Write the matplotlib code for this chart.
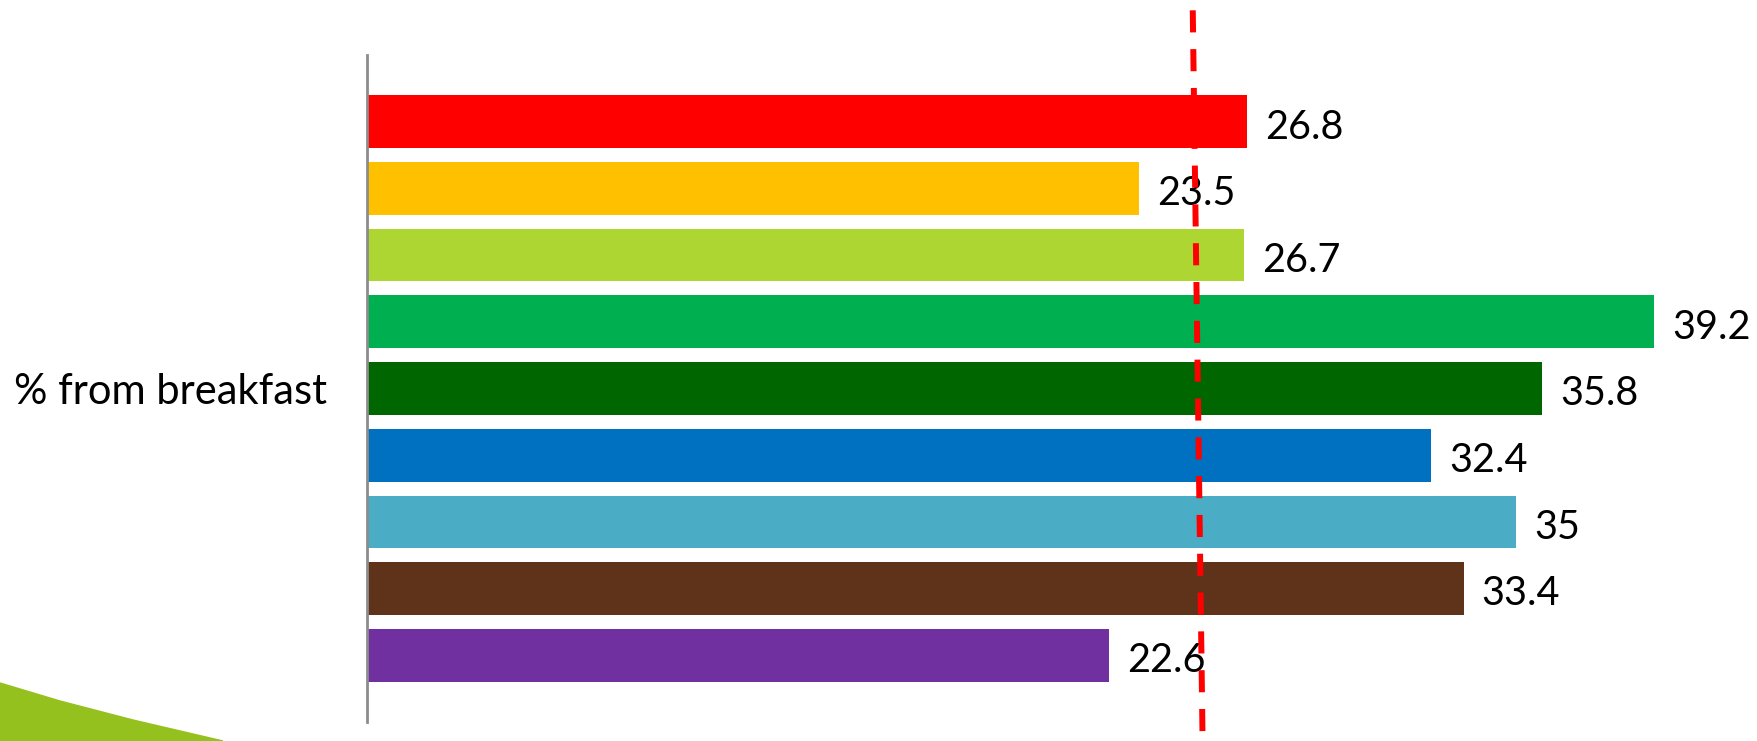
import matplotlib
matplotlib.use("Agg")
import matplotlib.pyplot as plt
from matplotlib.patches import Polygon
import numpy as np

category = "% from breakfast"
values = [26.8, 23.5, 26.7, 39.2, 35.8, 32.4, 35, 33.4, 22.6]
colors = ["#FF0000", "#FFC000", "#ADD633", "#00B050", "#006600",
          "#0070C0", "#4BACC6", "#5F3319", "#7030A0"]
ref_line = [25.15, 25.45]  # dashed reference, slightly slanted (top, bottom)

plt.rcParams['font.family'] = ['Lato', 'DejaVu Sans']

fig = plt.figure(figsize=(17.58, 7.41), dpi=100)
W, H = 1758, 741
ax = fig.add_axes([367 / W, 19 / H, 1379 / W, 667 / H])

pos = np.arange(len(values))
ax.barh(pos, values, height=0.79, color=colors)
ax.set_ylim(9, -1)
ax.set_xlim(0, 42)

for p, v in zip(pos, values):
    ax.text(v + 0.55, p + 0.08, f"{v:g}", va="center", ha="left", fontsize=28.5, color="black")

# axis styling
for s in ["top", "right", "bottom"]:
    ax.spines[s].set_visible(False)
ax.spines["left"].set_color("#8C8C8C")
ax.spines["left"].set_linewidth(2)
ax.set_xticks([])
ax.set_yticks([])

fig.text(14 / W, (H - 392) / H, category, ha="left", va="center", fontsize=30)

# dashed reference line crossing the whole chart
trans = ax.get_xaxis_transform()
ax.plot(ref_line, [1.067, -0.03], transform=trans, color="#FF0000", lw=4.3,
        linestyle=(0, (3.7, 2.8)), clip_on=False, zorder=5)

# decorative green swoosh bottom-left
shape = Polygon([(0, 58 / H), (60 / W, 40 / H), (133 / W, 21 / H), (223 / W, 0), (0, 0)],
                closed=True, transform=fig.transFigure, color="#95C11F", zorder=0)
fig.patches.append(shape)

fig.savefig("out.png", dpi=100)
